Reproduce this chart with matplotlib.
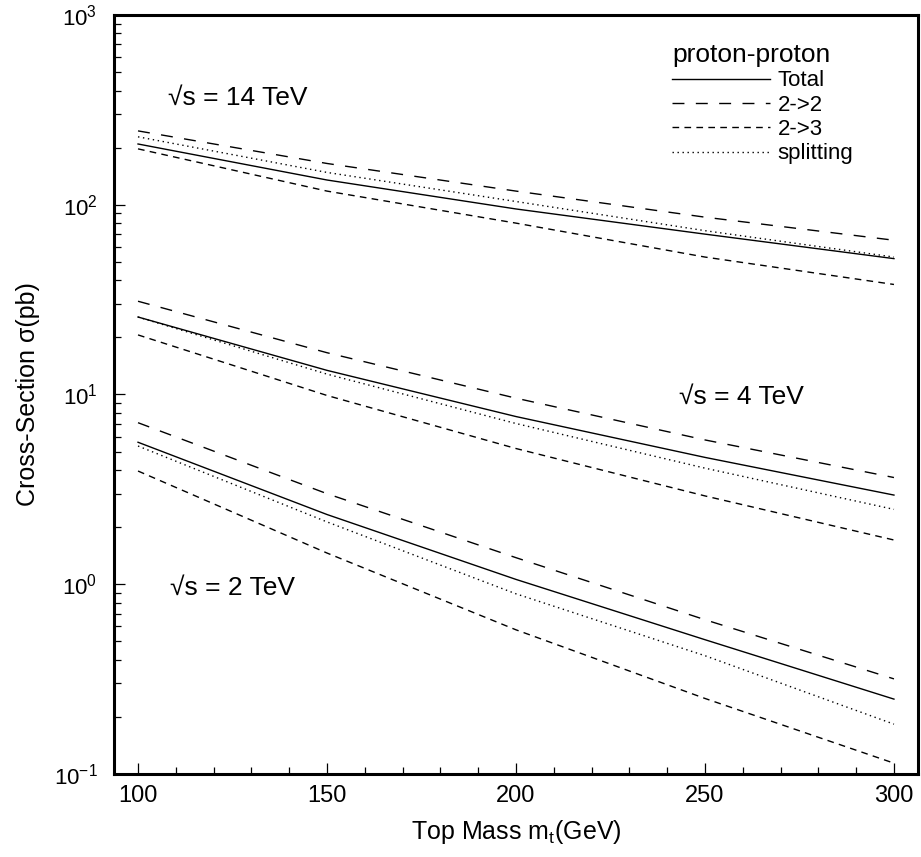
import numpy as np
import matplotlib
matplotlib.use("Agg")
import matplotlib.pyplot as plt
from matplotlib.ticker import MultipleLocator, LogLocator, NullFormatter

plt.rcParams['font.family'] = ['Liberation Sans', 'DejaVu Sans']
plt.rcParams['mathtext.fontset'] = 'custom'
plt.rcParams['mathtext.rm'] = 'Liberation Sans'
plt.rcParams['mathtext.it'] = 'Liberation Sans:italic'

# top mass points (GeV)
mt = [100, 150, 200, 250, 300]

# sqrt(s) = 14 TeV
total_14 = [209, 135, 95, 70, 52]
two2_14 = [245, 165, 118, 86, 65]
two3_14 = [197, 118, 80, 53, 38]
split_14 = [228, 148, 104, 73, 53]

# sqrt(s) = 4 TeV
total_4 = [25.6, 13.4, 7.65, 4.66, 2.95]
two2_4 = [31.0, 16.6, 9.56, 5.76, 3.65]
two3_4 = [20.6, 9.88, 5.19, 2.92, 1.71]
split_4 = [25.6, 12.8, 7.03, 4.09, 2.48]

# sqrt(s) = 2 TeV
total_2 = [5.6, 2.33, 1.06, 0.51, 0.248]
two2_2 = [7.1, 3.0, 1.38, 0.65, 0.317]
two3_2 = [3.95, 1.46, 0.575, 0.25, 0.114]
split_2 = [5.35, 2.13, 0.89, 0.42, 0.183]

labels = ['Total', '2->2', '2->3', 'splitting']
styles = ['-', (0, (8.6, 8.2)), (0, (4.8, 3.8)), (0, (1.0, 2.6))]

fig = plt.figure(figsize=(9.21, 8.57), dpi=100)
ax = fig.add_axes([0.1238, 0.0969, 0.8729, 0.8856])

groups = [
    [total_14, two2_14, two3_14, split_14],
    [total_4, two2_4, two3_4, split_4],
    [total_2, two2_2, two3_2, split_2],
]
for g, curves in enumerate(groups):
    for i in range(4):
        ax.plot(mt, curves[i], color='black', lw=1.0, linestyle=styles[i],
                label=labels[i] if g == 0 else None)

ax.set_yscale('log')
ax.set_xlim(93.65, 306.35)
ax.set_ylim(0.1, 1000)

ax.xaxis.set_major_locator(MultipleLocator(50))
ax.xaxis.set_minor_locator(MultipleLocator(10))
ax.yaxis.set_major_locator(LogLocator(base=10))
ax.yaxis.set_minor_locator(LogLocator(base=10, subs=np.arange(2, 10)))
ax.yaxis.set_minor_formatter(NullFormatter())

ax.tick_params(which='both', direction='in', top=False, right=False, width=0.9)
ax.tick_params(which='major', length=8)
ax.tick_params(which='minor', length=5)
ax.tick_params(axis='x', labelsize=17, pad=8)
ax.tick_params(axis='y', labelsize=16, pad=12)

for sp in ax.spines.values():
    sp.set_linewidth(2.2)

ax.set_xlabel(r'Top Mass m$_\mathrm{t}$(GeV)', fontsize=18, labelpad=8)
ax.set_ylabel('Cross-Section σ(pb)', fontsize=18, labelpad=10)

ax.text(108, 366, '√s = 14 TeV', fontsize=19, ha='left', va='center')
ax.text(243, 9.7, '√s = 4 TeV', fontsize=19, ha='left', va='center')
ax.text(108.5, 0.955, '√s = 2 TeV', fontsize=19, ha='left', va='center')

leg = ax.legend(loc='upper left', bbox_to_anchor=(0.694, 0.963), frameon=False,
                title='proton-proton', title_fontsize=19, fontsize=16,
                handlelength=4.4, handletextpad=0.35, labelspacing=0.15,
                borderpad=0, borderaxespad=0, alignment='left')

fig.savefig('out.png', dpi=100)
